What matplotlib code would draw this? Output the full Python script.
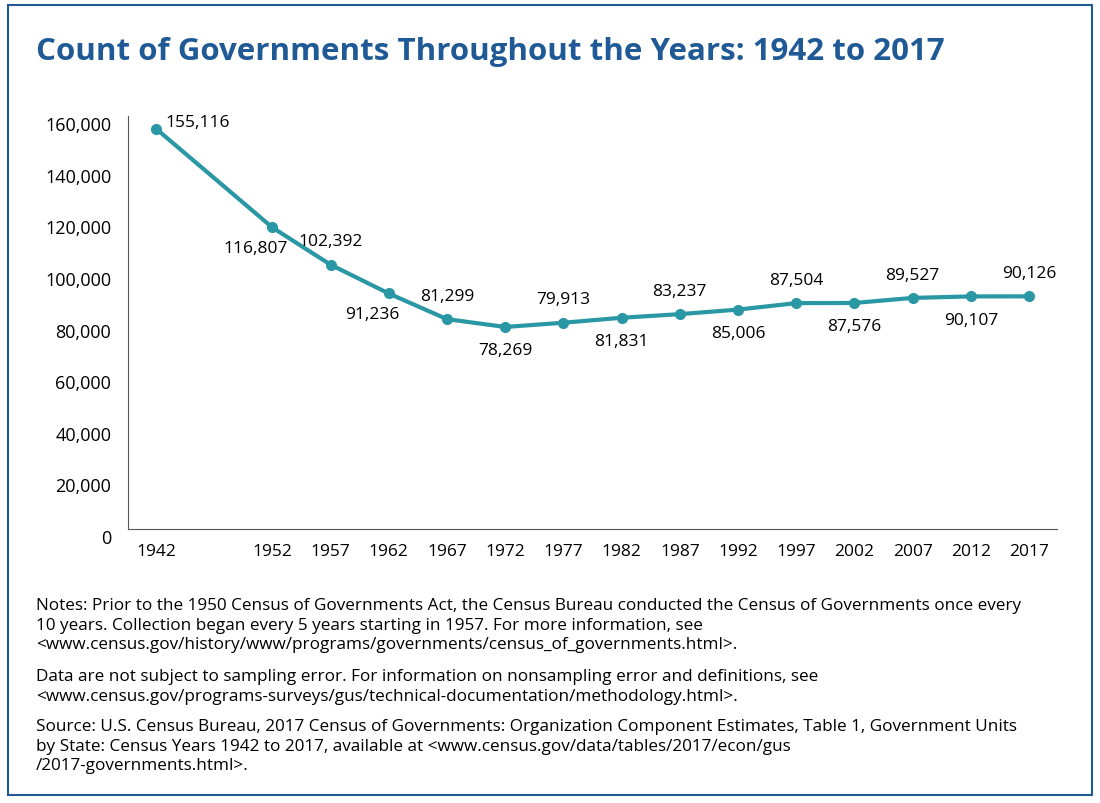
import matplotlib
matplotlib.use("Agg")
import matplotlib.pyplot as plt
from matplotlib.patches import Rectangle

years = [1942, 1952, 1957, 1962, 1967, 1972, 1977, 1982, 1987, 1992, 1997, 2002, 2007, 2012, 2017]
counts = [155116, 116807, 102392, 91236, 81299, 78269, 79913, 81831, 83237, 85006, 87504, 87576, 89527, 90107, 90126]
label_pos = ['right', 'belowleft', 'above', 'belowleft', 'above', 'below', 'above', 'below',
             'above', 'below', 'above', 'below', 'above', 'below', 'above']
yticks = list(range(0, 160001, 20000))

plt.rcParams['font.family'] = ['Open Sans', 'DejaVu Sans']
fig = plt.figure(figsize=(11, 8.04), dpi=100)
fig.patches.append(Rectangle((8/1100, 1-796/804), 1084/1100, 790/804, transform=fig.transFigure,
                             fill=False, edgecolor='#1f5a96', linewidth=1.5))
fig.text(36/1100, 1-52/804, "Count of Governments Throughout the Years: 1942 to 2017",
         fontsize=22.5, fontweight='bold', color='#1f5a96', va='center')

ax = fig.add_axes([128/1100, 1-530/804, 929/1100, 413/804])
color = '#2a97a5'
ax.plot(years, counts, color=color, lw=3, marker='o', ms=7)
ax.set_xlim(1939.6, 2019.4)
ax.set_ylim(0, 160000)
ax.set_yticks(yticks)
ax.set_yticklabels([f"{v:,}" for v in yticks], fontsize=13)
for lbl in ax.get_yticklabels():
    lbl.set_va('top')
ax.set_xticks(years)
ax.set_xticklabels([str(y) for y in years], fontsize=12.5)
ax.tick_params(axis='y', length=0, pad=12)
ax.tick_params(axis='x', length=0, pad=10)
for s in ['top', 'right']:
    ax.spines[s].set_visible(False)
for s in ['left', 'bottom']:
    ax.spines[s].set_color('#555555')

for x, y, p in zip(years, counts, label_pos):
    t = f"{y:,}"
    kw = dict(textcoords='offset points', fontsize=12.5)
    if p == 'right':
        ax.annotate(t, (x, y), xytext=(7, 5), ha='left', va='center', **kw)
    elif p == 'above':
        ax.annotate(t, (x, y), xytext=(0, 11), ha='center', va='bottom', **kw)
    elif p == 'below':
        ax.annotate(t, (x, y), xytext=(0, -11), ha='center', va='top', **kw)
    else:
        ax.annotate(t, (x, y), xytext=(-12, -9), ha='center', va='top', **kw)

notes = [
    (598, "Notes: Prior to the 1950 Census of Governments Act, the Census Bureau conducted the Census of Governments once every\n10 years. Collection began every 5 years starting in 1957. For more information, see\n<www.census.gov/history/www/programs/governments/census_of_governments.html>."),
    (669, "Data are not subject to sampling error. For information on nonsampling error and definitions, see\n<www.census.gov/programs-surveys/gus/technical-documentation/methodology.html>."),
    (719, "Source: U.S. Census Bureau, 2017 Census of Governments: Organization Component Estimates, Table 1, Government Units\nby State: Census Years 1942 to 2017, available at <www.census.gov/data/tables/2017/econ/gus\n/2017-governments.html>."),
]
for ypix, t in notes:
    fig.text(36/1100, 1-ypix/804, t, fontsize=12.3, va='top', ha='left', linespacing=1.3)

fig.savefig("out.png", dpi=100)
